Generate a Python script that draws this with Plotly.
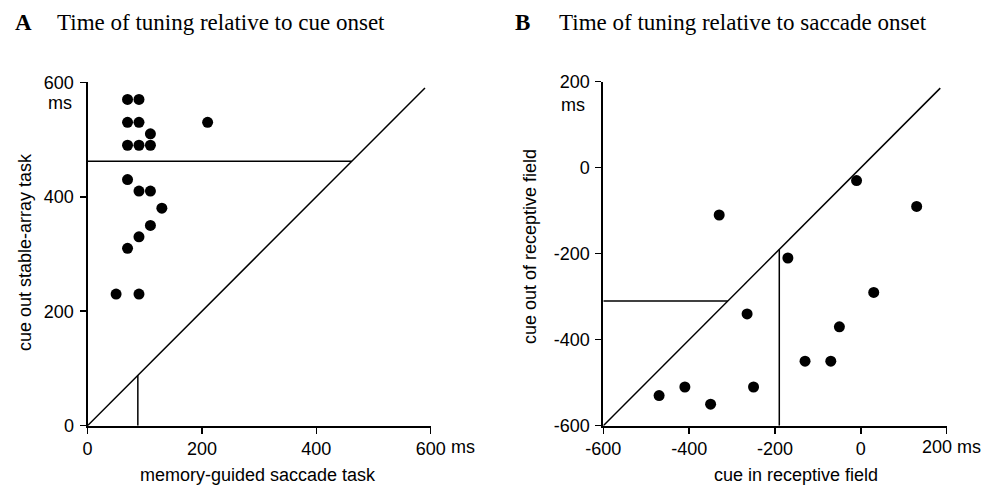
import plotly.graph_objects as go

W, H = 981, 485

# Panel A data: time of tuning relative to cue onset (ms)
a_memory_x = [70, 90, 70, 90, 110, 70, 90, 110, 210, 70, 90, 110, 130, 110, 90, 70, 50, 90]
a_stable_y = [570, 570, 530, 530, 510, 490, 490, 490, 530, 430, 410, 410, 380, 350, 330, 310, 230, 230]
a_median_x = 88
a_median_y = 462
a_diag = [0, 590]
a_ticks = [0, 200, 400, 600]
a_ticktext = ["0", "200", "400", "600"]

# Panel B data: time of tuning relative to saccade onset (ms)
b_in_x = [-470, -410, -350, -250, -265, -330, -170, -130, -70, -50, 30, -10, 130]
b_out_y = [-530, -510, -550, -510, -340, -110, -210, -450, -450, -370, -290, -30, -90]
b_median_x = -190
b_median_y = -310
b_diag = [-600, 185]
b_ticks = [-600, -400, -200, 0, 200]
b_xticktext = ["-600", "-400", "-200", "0", ""]
b_yticktext = ["-600", "-400", "-200", "0", "200"]


def px(x):
    return x / W


def py(y):
    return 1 - y / H


SANS = "Liberation Sans, Arial, sans-serif"
SERIF = "Liberation Serif, Times New Roman, serif"
LW = 1.5

fig = go.Figure()

# Panel A
fig.add_trace(go.Scatter(x=a_diag, y=a_diag, mode="lines", line=dict(color="black", width=LW),
                         xaxis="x", yaxis="y", showlegend=False, hoverinfo="skip"))
fig.add_trace(go.Scatter(x=[0, a_median_y], y=[a_median_y, a_median_y], mode="lines",
                         line=dict(color="black", width=LW), xaxis="x", yaxis="y", showlegend=False))
fig.add_trace(go.Scatter(x=[a_median_x, a_median_x], y=[0, a_median_x], mode="lines",
                         line=dict(color="black", width=LW), xaxis="x", yaxis="y", showlegend=False))
fig.add_trace(go.Scatter(x=a_memory_x, y=a_stable_y, mode="markers",
                         marker=dict(color="black", size=11), xaxis="x", yaxis="y", showlegend=False,
                         cliponaxis=False))

# Panel B
fig.add_trace(go.Scatter(x=b_diag, y=b_diag, mode="lines", line=dict(color="black", width=LW),
                         xaxis="x2", yaxis="y2", showlegend=False, hoverinfo="skip"))
fig.add_trace(go.Scatter(x=[-600, b_median_y], y=[b_median_y, b_median_y], mode="lines",
                         line=dict(color="black", width=LW), xaxis="x2", yaxis="y2", showlegend=False))
fig.add_trace(go.Scatter(x=[b_median_x, b_median_x], y=[-600, b_median_x], mode="lines",
                         line=dict(color="black", width=LW), xaxis="x2", yaxis="y2", showlegend=False))
fig.add_trace(go.Scatter(x=b_in_x, y=b_out_y, mode="markers",
                         marker=dict(color="black", size=11), xaxis="x2", yaxis="y2", showlegend=False,
                         cliponaxis=False))

axis_common = dict(showline=True, linecolor="black", linewidth=2, ticks="outside", ticklen=6,
                   tickwidth=1.5, tickcolor="black", showgrid=False, zeroline=False, automargin=False,
                   tickfont=dict(family=SANS, size=18, color="black"), fixedrange=True)

fig.update_layout(
    template="none",
    width=W, height=H,
    margin=dict(l=0, r=0, t=0, b=0),
    paper_bgcolor="white", plot_bgcolor="white",
    hovermode=False,
    xaxis=dict(domain=[px(87.5), px(430.7)], range=[0, 600], tickvals=a_ticks, ticktext=a_ticktext,
               anchor="y", **axis_common),
    yaxis=dict(domain=[py(425.7), py(82.3)], range=[0, 600], tickvals=a_ticks,
               ticktext=a_ticktext, anchor="x", ticklabelstandoff=2, **axis_common),
    xaxis2=dict(domain=[px(603.3), px(946.7)], range=[-600, 200], tickvals=b_ticks,
                ticktext=b_xticktext, anchor="y2", **axis_common),
    yaxis2=dict(domain=[py(425.7), py(81.7)], range=[-600, 200], tickvals=b_ticks,
                ticktext=b_yticktext, anchor="x2", ticklabelstandoff=2, **axis_common),
)

annos = [
    dict(text="<b>A</b>", x=px(12.5), y=py(22.7), xanchor="left", yanchor="middle",
         font=dict(family=SERIF, size=23, color="black")),
    dict(text="Time of tuning relative to cue onset", x=px(55), y=py(22.7), xanchor="left",
         yanchor="middle", font=dict(family=SERIF, size=23, color="black")),
    dict(text="<b>B</b>", x=px(512.5), y=py(22.7), xanchor="left", yanchor="middle",
         font=dict(family=SERIF, size=23, color="black")),
    dict(text="Time of tuning relative to saccade onset", x=px(556.7), y=py(22.7), xanchor="left",
         yanchor="middle", font=dict(family=SERIF, size=23, color="black")),
    # unit labels
    dict(text="ms", x=px(449), y=py(446.7), xanchor="left", yanchor="middle",
         font=dict(family=SANS, size=18, color="black")),
    dict(text="200 ms", x=px(920), y=py(446.7), xanchor="left", yanchor="middle",
         font=dict(family=SANS, size=18, color="black")),
    dict(text="ms", x=px(46), y=py(103), xanchor="left", yanchor="middle",
         font=dict(family=SANS, size=18, color="black")),
    dict(text="ms", x=px(559), y=py(105), xanchor="left", yanchor="middle",
         font=dict(family=SANS, size=18, color="black")),
    # axis titles
    dict(text="memory-guided saccade task", x=px(258), y=py(475), xanchor="center", yanchor="middle",
         font=dict(family=SANS, size=18, color="black")),
    dict(text="cue in receptive field", x=px(796), y=py(475), xanchor="center", yanchor="middle",
         font=dict(family=SANS, size=18, color="black")),
    dict(text="cue out stable-array task", x=px(25), y=py(252), xanchor="center", yanchor="middle",
         textangle=-90, font=dict(family=SANS, size=18, color="black")),
    dict(text="cue out of receptive field", x=px(530), y=py(247), xanchor="center", yanchor="middle",
         textangle=-90, font=dict(family=SANS, size=18, color="black")),
]
for a in annos:
    a.update(xref="paper", yref="paper", showarrow=False)
fig.update_layout(annotations=annos)

fig.write_html("out.html", config={"displayModeBar": False, "staticPlot": True},
               post_script="document.body.style.margin='0px';document.body.style.padding='0px';")
